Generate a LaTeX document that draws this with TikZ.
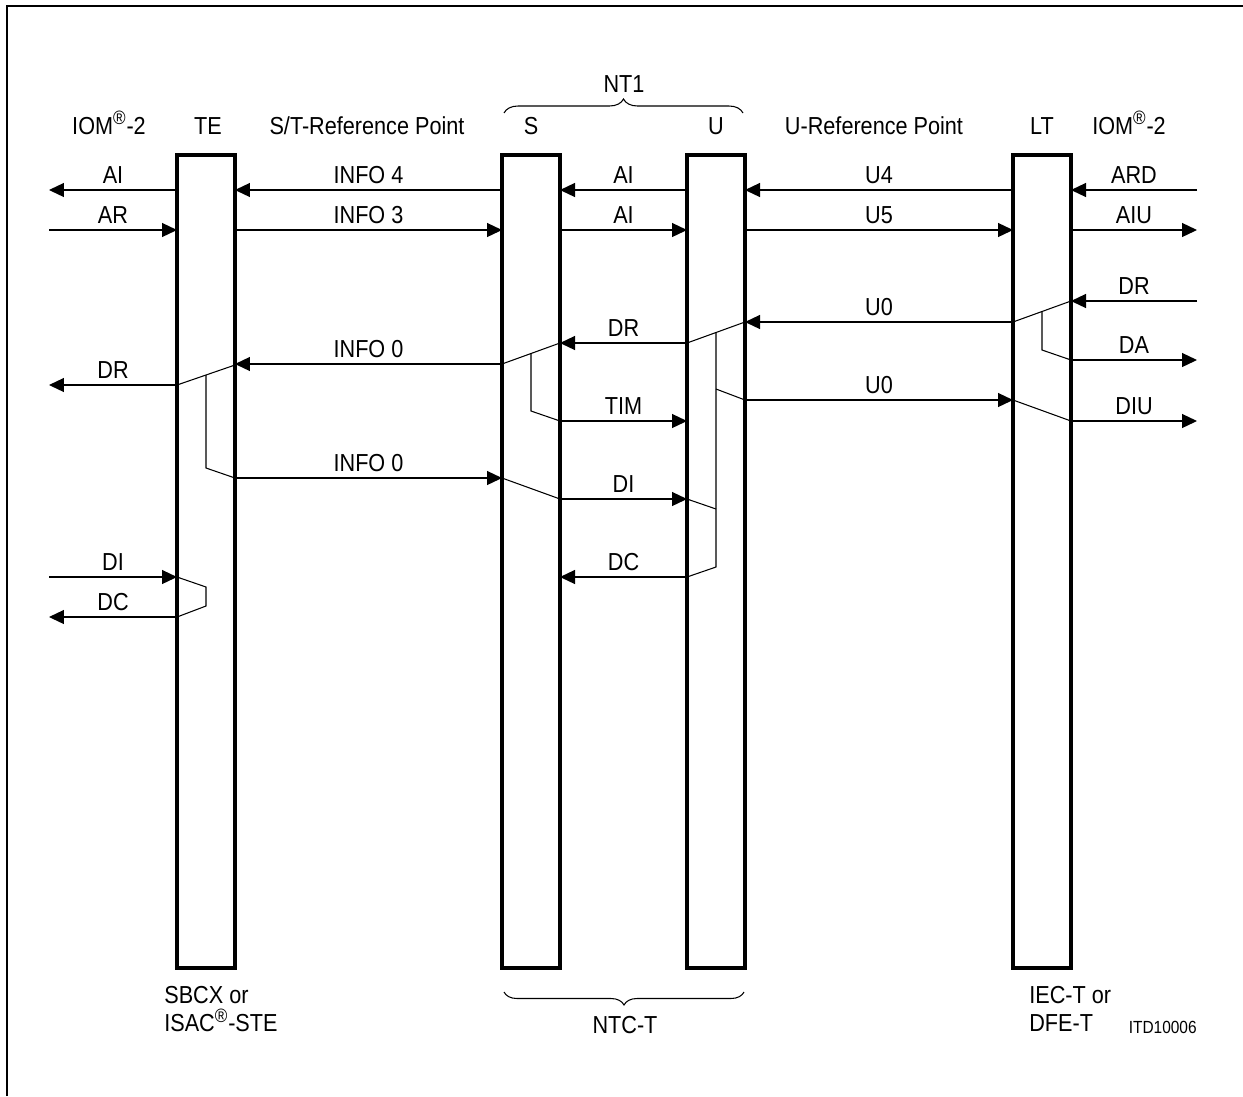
\documentclass[tikz,border=0pt]{standalone}
\usepackage{fontspec}
\setmainfont{Liberation Sans}[FakeStretch=0.88]
\usetikzlibrary{arrows.meta,decorations.pathreplacing}
\newcommand{\regmark}{\textsuperscript{\fontsize{11}{12}\selectfont\textregistered}}

\begin{document}
\begin{tikzpicture}[x=0.02cm,y=-0.02cm,
  bar/.style={draw,line width=2.2pt,minimum width=1.16cm,minimum height=16.26cm,inner sep=0pt,outer sep=0pt},
  sig/.style={-{Triangle[length=3mm,width=2.8mm]},line width=0.7pt},
  wire/.style={line width=0.6pt},
  lbl/.style={font=\fontsize{14}{16}\selectfont},
  brc/.style={decorate,line width=0.6pt}]
\useasboundingbox (0,0) rectangle (1243,1096);
\draw[line width=1.1pt] (7,1096) -- (7,6) -- (1243,6);

% ===== bars =====
\node[bar] (te) at (206,561.5) {};
\node[bar] (s) at (531,561.5) {};
\node[bar] (u) at (716,561.5) {};
\node[bar] (lt) at (1042,561.5) {};
\coordinate (iomL) at (49,0);
\coordinate (iomR) at (1197,0);

% ===== header =====
\node[lbl,anchor=base] (hiomL) at (109,134) {IOM\regmark-2};
\node[lbl,anchor=base] (hte) at (208,134) {TE};
\node[lbl,anchor=base] (hst) at (367,134) {S/T-Reference Point};
\node[lbl,anchor=base] (hs) at (531,134) {S};
\node[lbl,anchor=base] (hu) at (716,134) {U};
\node[lbl,anchor=base] (hur) at (874,134) {U-Reference Point};
\node[lbl,anchor=base] (hlt) at (1042,134) {LT};
\node[lbl,anchor=base] (hiomR) at (1129,134) {IOM\regmark-2};
\node[lbl,anchor=base] (nt1) at (624,92) {NT1};
\draw[brc,decoration={brace,amplitude=2.8mm}] (504,113) -- (743,113);

% ===== signals =====
\foreach \a/\b/\y/\t in {te.west/iomL/190/AI,s.west/te.east/190/INFO 4,u.west/s.east/190/AI,lt.west/u.east/190/U4,iomR/lt.east/190/ARD,
  iomL/te.west/230/AR,te.east/s.west/230/INFO 3,s.east/u.west/230/AI,u.east/lt.west/230/U5,lt.east/iomR/230/AIU,
  iomR/lt.east/301/DR,lt.west/u.east/322/U0,u.west/s.east/343/DR,s.west/te.east/364/INFO 0,te.west/iomL/385/DR,
  lt.east/iomR/360/DA,u.east/lt.west/400/U0,s.east/u.west/421/TIM,lt.east/iomR/421/DIU,
  te.east/s.west/478/INFO 0,s.east/u.west/499/DI,u.west/s.east/577/DC,iomL/te.west/577/DI,te.west/iomL/617/DC}{
  \draw[sig] (\a|-0,\y) -- node[lbl,above]{\t} (\b|-0,\y);}

% ===== links inside the bars =====
\draw[wire] (te.west|-0,385) -- (te.east|-0,365);
\draw[wire] (te.center|-0,375) -- (te.center|-0,468) -- (te.east|-0,478);
\draw[wire] (te.west|-0,577) -- (te.center|-0,587) -- (te.center|-0,606) -- (te.west|-0,617);
\draw[wire] (s.east|-0,343) -- (s.west|-0,364);
\draw[wire] (s.center|-0,354) -- (s.center|-0,411) -- (s.east|-0,421);
\draw[wire] (s.west|-0,478) -- (s.east|-0,499);
\draw[wire] (u.west|-0,343) -- (u.east|-0,322);
\draw[wire] (u.center|-0,333) -- (u.center|-0,567) -- (u.west|-0,577);
\draw[wire] (u.center|-0,389) -- (u.east|-0,400);
\draw[wire] (u.west|-0,499) -- (u.center|-0,509);
\draw[wire] (lt.west|-0,322) -- (lt.east|-0,301);
\draw[wire] (lt.center|-0,311.5) -- (lt.center|-0,350) -- (lt.east|-0,360);
\draw[wire] (lt.west|-0,400) -- (lt.east|-0,421);

% ===== footer =====
\node[lbl,anchor=north west,align=left,inner sep=0pt] (sbcx) at (164,986) {SBCX or\\ISAC\regmark-STE};
\draw[brc,decoration={brace,amplitude=2.6mm}] (744,992) -- (504,992);
\node[lbl,anchor=base] (ntc) at (625,1033) {NTC-T};
\node[lbl,anchor=north west,align=left,inner sep=0pt] (iec) at (1029,986) {IEC-T or\\DFE-T};
\node[font=\fontsize{10}{12}\selectfont,anchor=base east,inner sep=0pt] (itd) at (1197,1033) {ITD10006};
\end{tikzpicture}
\end{document}
